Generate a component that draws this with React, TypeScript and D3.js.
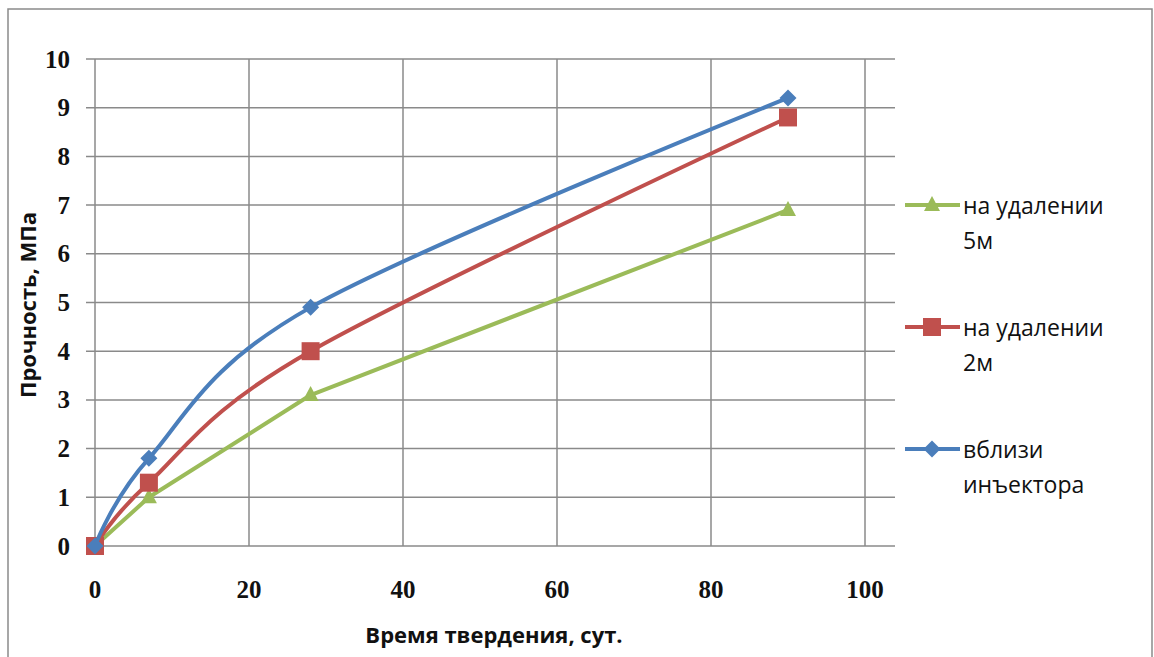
import React from "react";
import * as d3 from "d3";

const days = [0, 7, 28, 90];
const far5 = [0, 1.0, 3.1, 6.9];
const far2 = [0, 1.3, 4.0, 8.8];
const near = [0, 1.8, 4.9, 9.2];
const xTicks = [0, 20, 40, 60, 80, 100];
const yTicks = [0, 1, 2, 3, 4, 5, 6, 7, 8, 9, 10];

const seriesNames = [
  ["на удалении", "5м"],
  ["на удалении", "2м"],
  ["вблизи", "инъектора"],
];
const seriesColors = ["#9BBB59", "#C0504D", "#4A7EBB"];
const seriesShapes = ["triangle", "square", "diamond"];
const seriesSmooth = [false, true, true];
const seriesValues = [far5, far2, near];

function Marker({ shape, cx, cy, color }: { shape: string; cx: number; cy: number; color: string }) {
  if (shape === "square") {
    return <rect x={cx - 9} y={cy - 9} width={18} height={18} fill={color} />;
  }
  if (shape === "diamond") {
    return (
      <path
        d={`M${cx},${cy - 8.5} L${cx + 8.5},${cy} L${cx},${cy + 8.5} L${cx - 8.5},${cy} Z`}
        fill={color}
      />
    );
  }
  return (
    <path
      d={`M${cx},${cy - 9} L${cx + 8},${cy + 6} L${cx - 8},${cy + 6} Z`}
      fill={color}
    />
  );
}

export default function App() {
  const x = d3.scaleLinear().domain([0, 100]).range([95, 865]);
  const y = d3.scaleLinear().domain([0, 10]).range([546, 59]);
  const gridRight = 895;
  const makeLine = (smooth: boolean) =>
    d3
      .line<[number, number]>()
      .x((d) => x(d[0]))
      .y((d) => y(d[1]))
      .curve(smooth ? d3.curveCatmullRom.alpha(0) : d3.curveLinear);

  const legendY = [205, 327, 449];

  return (
    <svg
      width={1154}
      height={657}
      style={{ position: "absolute", left: 0, top: 0, background: "#fff" }}
    >
      <rect x={8} y={9} width={1144} height={660} fill="#fff" stroke="#8a8a8a" strokeWidth={1.5} />
      {yTicks.map((t) => (
        <line key={"h" + t} x1={86} x2={gridRight} y1={y(t)} y2={y(t)} stroke="#8a8a8a" strokeWidth={1.5} />
      ))}
      {xTicks.map((t) => (
        <line key={"v" + t} x1={x(t)} x2={x(t)} y1={y(10)} y2={t === 0 ? 555 : y(0)} stroke="#8a8a8a" strokeWidth={1.5} />
      ))}
      {yTicks.map((t) => (
        <text
          key={"yl" + t}
          x={70}
          y={y(t)}
          textAnchor="end"
          dominantBaseline="central"
          fontFamily="'Liberation Serif', serif"
          fontWeight="bold"
          fontSize={25}
          fill="#111"
        >
          {t}
        </text>
      ))}
      {xTicks.map((t) => (
        <text
          key={"xl" + t}
          x={x(t)}
          y={589}
          textAnchor="middle"
          dominantBaseline="central"
          fontFamily="'Liberation Serif', serif"
          fontWeight="bold"
          fontSize={25}
          fill="#111"
        >
          {t}
        </text>
      ))}
      <text
        x={494}
        y={634}
        textAnchor="middle"
        dominantBaseline="central"
        fontFamily="'Open Sans', sans-serif"
        fontWeight="bold"
        fontSize={22}
        fill="#111"
      >
        Время твердения, сут.
      </text>
      <text
        transform={`translate(27,305) rotate(-90)`}
        textAnchor="middle"
        dominantBaseline="central"
        fontFamily="'Open Sans', sans-serif"
        fontWeight="bold"
        fontSize={22}
        fill="#111"
      >
        Прочность, МПа
      </text>
      {seriesValues.map((vals, i) => {
        const pts = days.map((d, j) => [d, vals[j]] as [number, number]);
        return (
          <g key={"s" + i}>
            <path d={makeLine(seriesSmooth[i])(pts) || ""} fill="none" stroke={seriesColors[i]} strokeWidth={4} strokeLinejoin="round" />
            {pts.map((p, j) => (
              <Marker key={j} shape={seriesShapes[i]} cx={x(p[0])} cy={y(p[1])} color={seriesColors[i]} />
            ))}
          </g>
        );
      })}
      {seriesNames.map((name, i) => (
        <g key={"lg" + i}>
          <line x1={905} x2={960} y1={legendY[i]} y2={legendY[i]} stroke={seriesColors[i]} strokeWidth={4} />
          <Marker shape={seriesShapes[i]} cx={932} cy={legendY[i]} color={seriesColors[i]} />
          {name.map((ln, k) => (
            <text
              key={k}
              x={963}
              y={legendY[i] + k * 35}
              dominantBaseline="central"
              fontFamily="'Open Sans', sans-serif"
              fontSize={23}
              fill="#111"
            >
              {ln}
            </text>
          ))}
        </g>
      ))}
    </svg>
  );
}
